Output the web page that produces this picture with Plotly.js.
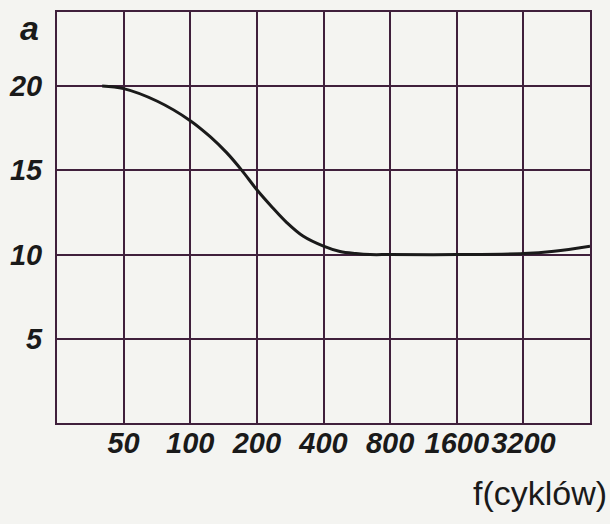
<!DOCTYPE html>
<html>
<head>
<meta charset="utf-8">
<script src="https://cdn.plot.ly/plotly-3.0.1.min.js"></script>
<style>
html,body{margin:0;padding:0;background:#f4f4f1;}
#chart{width:610px;height:524px;}
</style>
</head>
<body>
<div id="chart"></div>
<script>
// Data (frequency in cycles, attenuation a)
const freq = [40, 50, 71, 100, 123, 146, 171, 200, 235, 273, 323, 400, 475, 560, 650, 800, 1600, 3200, 4400, 6400];
const aVals = [20.0, 19.85, 19.1, 17.95, 17.0, 16.05, 15.0, 13.85, 12.8, 11.9, 11.1, 10.5, 10.18, 10.06, 10.0, 10.0, 10.0, 10.06, 10.2, 10.5];
const xTickVals = [50, 100, 200, 400, 800, 1600, 3200];
const xTickText = ["50", "100", "200", "400", "800", "1600", "3200"];
const yTickVals = [5, 10, 15, 20];
const yTickText = ["5", "10", "15", "20"];

const gridColor = "#40203c";
const labelFont = {family: "Liberation Sans", size: 29, color: "#1a1a1a", style: "italic", weight: "bold"};

const trace = {
  x: freq, y: aVals, type: "scatter", mode: "lines",
  line: {color: "#1a1a1a", width: 3, shape: "spline", smoothing: 1},
  hoverinfo: "skip", showlegend: false
};

const layout = {
  width: 610, height: 524,
  paper_bgcolor: "#f4f4f1", plot_bgcolor: "#f4f4f1",
  margin: {l: 57, r: 20, t: 12, b: 101},
  xaxis: {
    type: "log", range: [Math.log10(25), Math.log10(6400)],
    tickmode: "array", tickvals: xTickVals, ticktext: xTickText,
    showgrid: true, gridcolor: gridColor, gridwidth: 2,
    showline: true, linecolor: gridColor, linewidth: 2, mirror: true,
    zeroline: false, ticks: "", tickfont: labelFont, ticklabelstandoff: -7
  },
  yaxis: {
    range: [0, 24.4],
    tickmode: "array", tickvals: yTickVals, ticktext: yTickText,
    showgrid: true, gridcolor: gridColor, gridwidth: 2,
    showline: true, linecolor: gridColor, linewidth: 2, mirror: true,
    zeroline: false, ticks: "", tickfont: labelFont, ticklabelstandoff: 7
  },
  annotations: [
    {text: "a", xref: "paper", yref: "paper", x: -0.052, y: 0.96,
     xanchor: "center", yanchor: "middle", showarrow: false,
     font: {family: "Liberation Sans", size: 34, color: "#1a1a1a", style: "italic", weight: "bold"}},
    {text: "f(cyklów)", xref: "paper", yref: "paper", x: 1.035, y: -0.17,
     xanchor: "right", yanchor: "middle", showarrow: false,
     font: {family: "Liberation Sans", size: 34, color: "#1a1a1a"}}
  ]
};

Plotly.newPlot("chart", [trace], layout, {staticPlot: true, displayModeBar: false});
</script>
</body>
</html>
